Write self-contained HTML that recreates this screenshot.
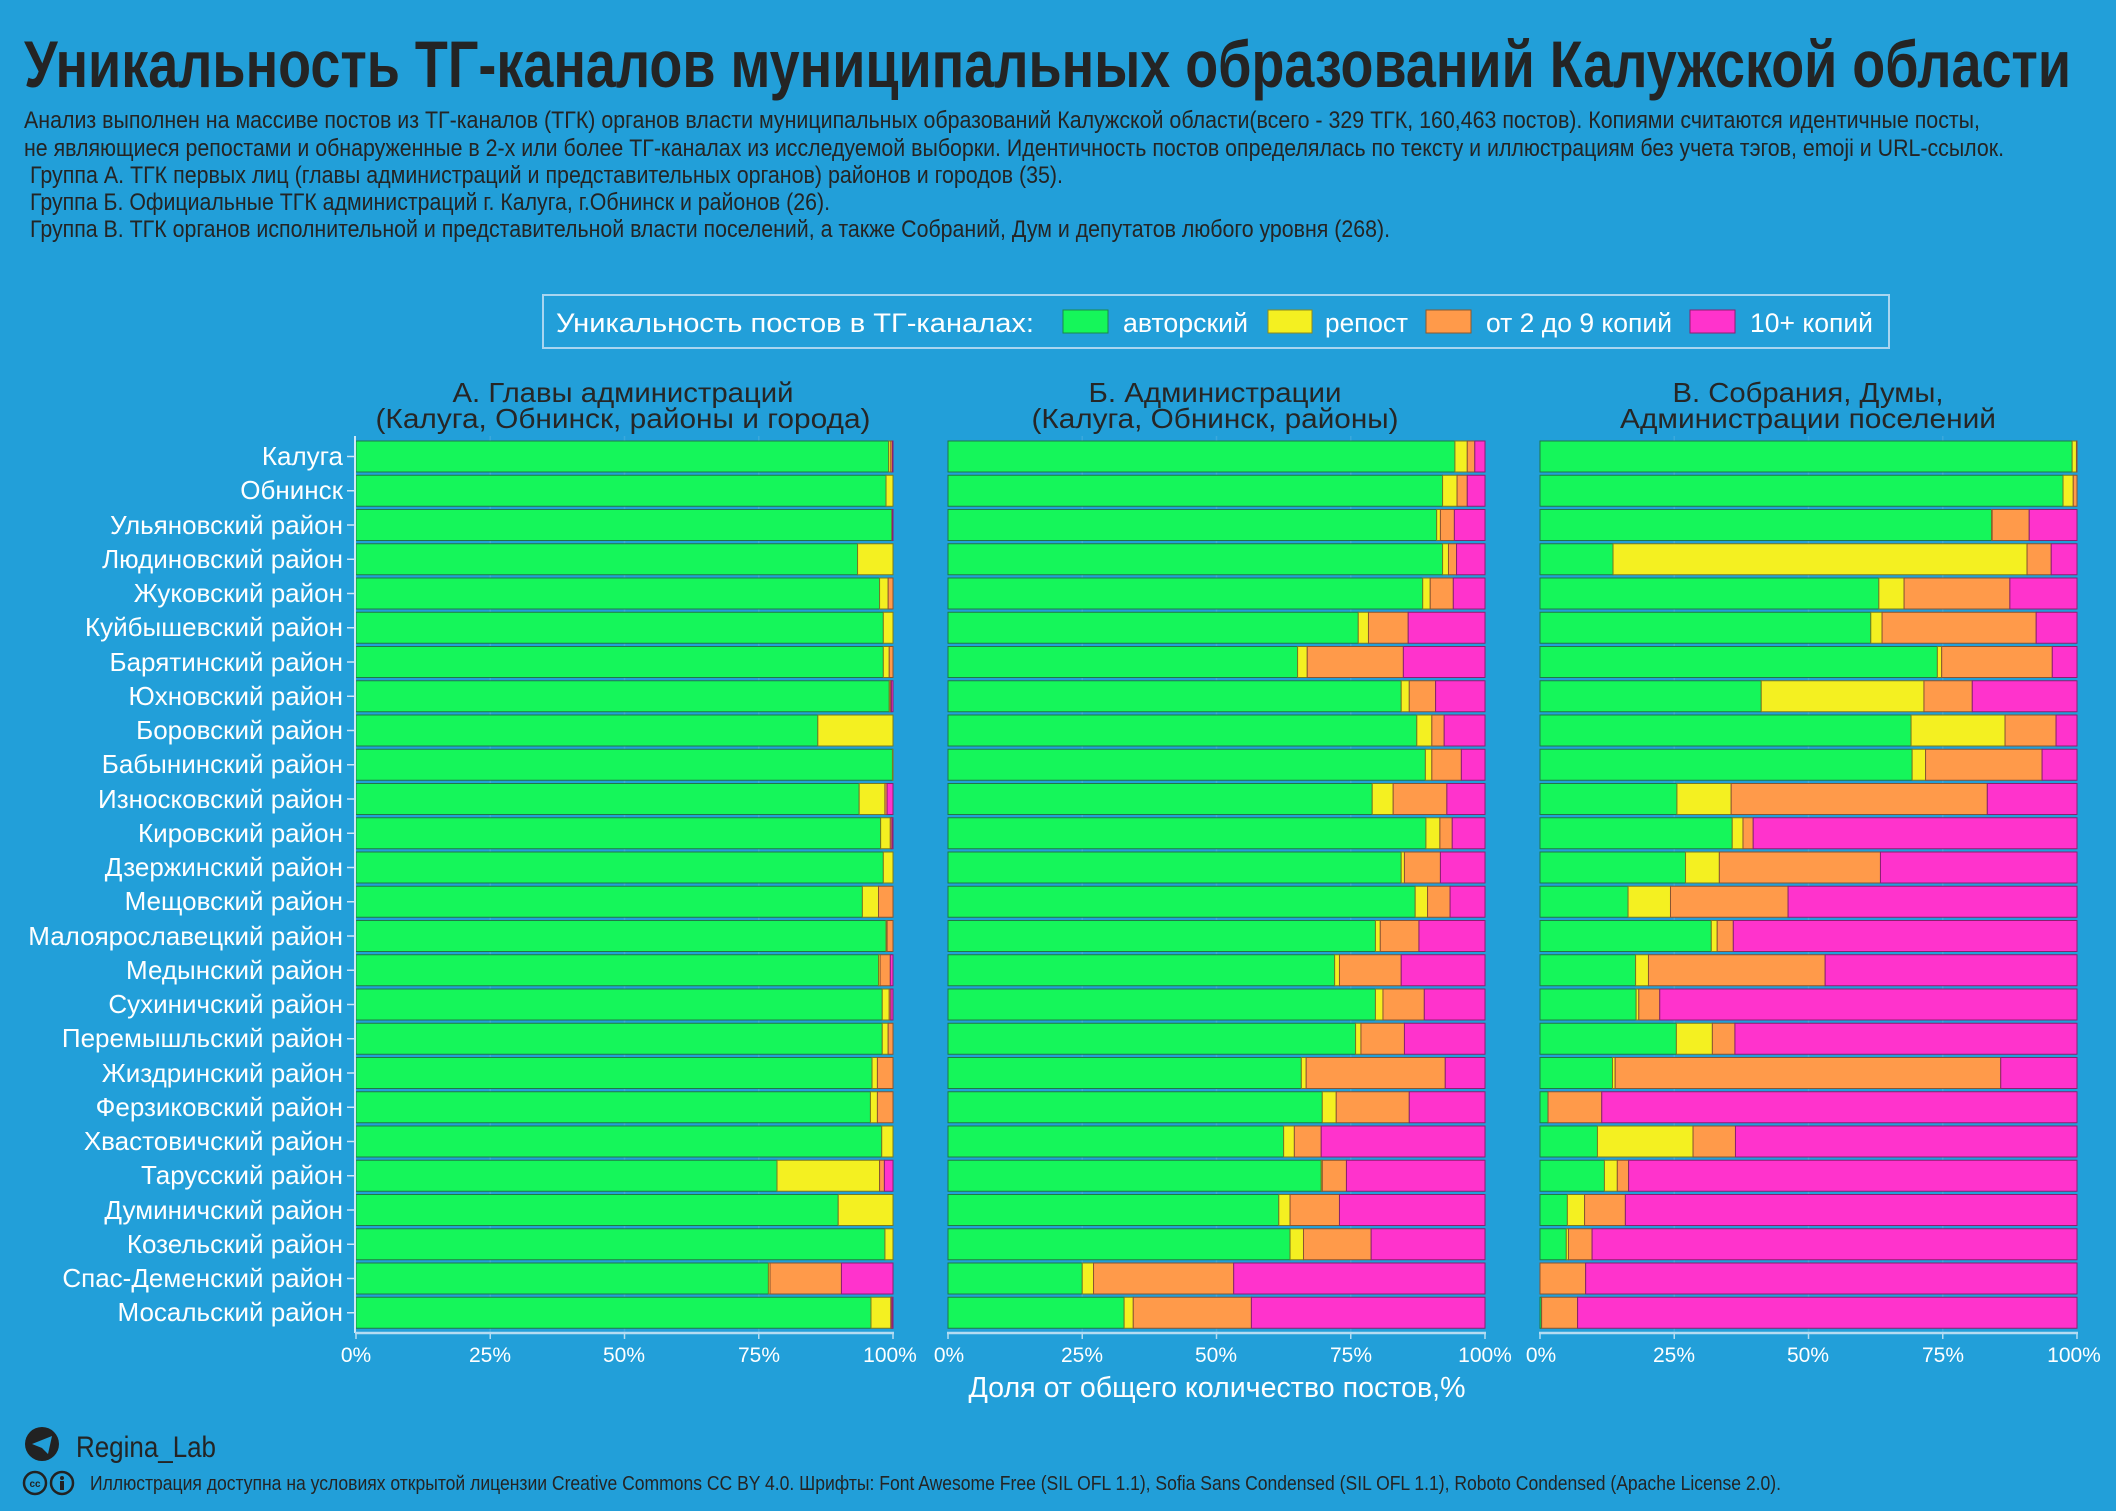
<!DOCTYPE html>
<html><head><meta charset="utf-8"><style>
html,body{margin:0;padding:0;background:#229FD9;}
svg{display:block}
text{font-family:"Liberation Sans","DejaVu Sans",sans-serif}
</style></head><body>
<svg id="s" width="2116" height="1511" viewBox="0 0 2116 1511" xmlns="http://www.w3.org/2000/svg">
<rect width="2116" height="1511" fill="#229FD9"/>
<text x="24" y="87" font-size="66" font-weight="bold" fill="#242424" textLength="2047" lengthAdjust="spacingAndGlyphs">Уникальность ТГ-каналов муниципальных образований Калужской области</text>
<g font-size="24" fill="#242424">
<text x="24" y="128" textLength="1956" lengthAdjust="spacingAndGlyphs">Анализ выполнен на массиве постов из ТГ-каналов (ТГК) органов власти муниципальных образований Калужской области(всего - 329 ТГК, 160,463 постов). Копиями считаются идентичные посты,</text>
<text x="24" y="156" textLength="1980" lengthAdjust="spacingAndGlyphs">не являющиеся репостами и обнаруженные в 2-х или более ТГ-каналах из исследуемой выборки. Идентичность постов определялась по тексту и иллюстрациям без учета тэгов, emoji и URL-ссылок.</text>
<text x="30" y="183" textLength="1033" lengthAdjust="spacingAndGlyphs">Группа А. ТГК первых лиц (главы администраций и представительных органов) районов и городов (35).</text>
<text x="30" y="210" textLength="800" lengthAdjust="spacingAndGlyphs">Группа Б. Официальные ТГК администраций г. Калуга, г.Обнинск и районов (26).</text>
<text x="30" y="237" textLength="1360" lengthAdjust="spacingAndGlyphs">Группа В. ТГК органов исполнительной и представительной власти поселений, а также Собраний, Дум и  депутатов любого уровня (268).</text>
</g>
<rect x="543" y="295" width="1346" height="53" fill="none" stroke="#a9d5f0" stroke-width="2"/>
<g font-size="27" fill="#ffffff">
<text x="556" y="332" textLength="478" lengthAdjust="spacingAndGlyphs">Уникальность постов в ТГ-каналах:</text>
<rect x="1063" y="310" width="45" height="23" fill="#15F65A" stroke="#1a8a4a"/>
<text x="1123" y="332" textLength="125" lengthAdjust="spacingAndGlyphs">авторский</text>
<rect x="1268" y="310" width="44" height="23" fill="#F4F021" stroke="#8a8a20"/>
<text x="1325" y="332" textLength="83" lengthAdjust="spacingAndGlyphs">репост</text>
<rect x="1426" y="310" width="45" height="23" fill="#FF9A4A" stroke="#8a5a30"/>
<text x="1486" y="332" textLength="186" lengthAdjust="spacingAndGlyphs">от 2 до 9 копий</text>
<rect x="1690" y="310" width="45" height="23" fill="#FF33CC" stroke="#8a2070"/>
<text x="1750" y="332" textLength="123" lengthAdjust="spacingAndGlyphs">10+ копий</text>
</g>
<g font-size="28" fill="#262626" text-anchor="middle">
<text x="623" y="402" textLength="341" lengthAdjust="spacingAndGlyphs">А. Главы администраций</text>
<text x="623" y="428" textLength="495" lengthAdjust="spacingAndGlyphs">(Калуга, Обнинск, районы и города)</text>
<text x="1215" y="402" textLength="253" lengthAdjust="spacingAndGlyphs">Б. Администрации</text>
<text x="1215" y="428" textLength="367" lengthAdjust="spacingAndGlyphs">(Калуга, Обнинск, районы)</text>
<text x="1808" y="402" textLength="271" lengthAdjust="spacingAndGlyphs">В. Собрания, Думы,</text>
<text x="1808" y="428" textLength="376" lengthAdjust="spacingAndGlyphs">Администрации поселений</text>
</g>
<g id="grid" stroke="#3aa8dc" stroke-width="1.5"></g>
<g id="bars"></g>
<line x1="355" y1="436" x2="355" y2="1333" stroke="#cfe8f7" stroke-width="2"/>
<g id="axes" stroke="#b5dcf2" stroke-width="2.5"></g>
<g font-size="26" fill="#ffffff" text-anchor="end">
<text x="343" y="465">Калуга</text>
<text x="343" y="499">Обнинск</text>
<text x="343" y="534">Ульяновский район</text>
<text x="343" y="568">Людиновский район</text>
<text x="343" y="602">Жуковский район</text>
<text x="343" y="636">Куйбышевский район</text>
<text x="343" y="671">Барятинский район</text>
<text x="343" y="705">Юхновский район</text>
<text x="343" y="739">Боровский район</text>
<text x="343" y="773">Бабынинский район</text>
<text x="343" y="808">Износковский район</text>
<text x="343" y="842">Кировский район</text>
<text x="343" y="876">Дзержинский район</text>
<text x="343" y="910">Мещовский район</text>
<text x="343" y="945">Малоярославецкий район</text>
<text x="343" y="979">Медынский район</text>
<text x="343" y="1013">Сухиничский район</text>
<text x="343" y="1047">Перемышльский район</text>
<text x="343" y="1082">Жиздринский район</text>
<text x="343" y="1116">Ферзиковский район</text>
<text x="343" y="1150">Хвастовичский район</text>
<text x="343" y="1184">Тарусский район</text>
<text x="343" y="1219">Думиничский район</text>
<text x="343" y="1253">Козельский район</text>
<text x="343" y="1287">Спас-Деменский район</text>
<text x="343" y="1321">Мосальский район</text>
</g>
<g font-size="21" fill="#ffffff" text-anchor="middle">
<text x="356" y="1362">0%</text><text x="490" y="1362">25%</text><text x="624" y="1362">50%</text><text x="759" y="1362">75%</text><text x="890" y="1362">100%</text>
<text x="949" y="1362">0%</text><text x="1082" y="1362">25%</text><text x="1216" y="1362">50%</text><text x="1351" y="1362">75%</text><text x="1485" y="1362">100%</text>
<text x="1541" y="1362">0%</text><text x="1674" y="1362">25%</text><text x="1808" y="1362">50%</text><text x="1943" y="1362">75%</text><text x="2074" y="1362">100%</text>
</g>
<text x="1217" y="1397" font-size="29" fill="#ffffff" text-anchor="middle" textLength="497" lengthAdjust="spacingAndGlyphs">Доля от общего количество постов,%</text>
<circle cx="42" cy="1444" r="17" fill="#222"/>
<path d="M32 1444 L52 1436 L48 1454 L42 1448 Z" fill="#229FD9"/>
<text x="76" y="1457" font-size="30" fill="#242424" textLength="140" lengthAdjust="spacingAndGlyphs">Regina_Lab</text>
<circle cx="35" cy="1483" r="11" fill="none" stroke="#222" stroke-width="2.5"/>
<text x="35" y="1487" font-size="10" font-weight="bold" fill="#222" text-anchor="middle">cc</text>
<circle cx="62" cy="1483" r="11" fill="none" stroke="#222" stroke-width="2.5"/>
<circle cx="62" cy="1478" r="2" fill="#222"/><rect x="60" y="1481" width="4" height="9" fill="#222"/>
<text x="90" y="1490" font-size="20" fill="#242424" textLength="1691" lengthAdjust="spacingAndGlyphs">Иллюстрация доступна на условиях открытой лицензии Creative Commons CC BY 4.0.  Шрифты: Font Awesome Free (SIL OFL 1.1), Sofia Sans Condensed (SIL OFL 1.1), Roboto Condensed (Apache License 2.0).</text>
</svg>
<script>
var A=[[.992,.996,.999],[.987,1,1],[.998,.998,.999],[.934,1,1],[.975,.991,1],[.982,1,1],[.982,.993,1],[.993,.995,.997],[.860,1,1],[.999,1,1],[.937,.985,.989],[.977,.995,.998],[.982,1,1],[.943,.973,1],[.987,.989,1],[.973,.976,.995],[.980,.993,.996],[.980,.991,1],[.961,.971,1],[.958,.971,1],[.979,1,1],[.784,.975,.984],[.898,1,1],[.985,1,1],[.768,.771,.904],[.959,.996,.998]];
var B=[[.944,.967,.981],[.921,.948,.967],[.910,.917,.943],[.921,.932,.947],[.884,.898,.941],[.764,.783,.857],[.651,.669,.848],[.844,.859,.908],[.873,.901,.924],[.889,.901,.956],[.790,.829,.929],[.890,.916,.939],[.844,.850,.917],[.870,.893,.935],[.796,.805,.877],[.720,.729,.844],[.796,.810,.887],[.759,.769,.850],[.658,.667,.926],[.697,.723,.859],[.625,.645,.695],[.695,.697,.742],[.616,.637,.729],[.637,.662,.788],[.250,.271,.532],[.328,.345,.565]];
var C=[[.991,.999,1],[.974,.993,1],[.841,.842,.911],[.136,.907,.952],[.631,.678,.875],[.616,.637,.924],[.740,.748,.954],[.412,.715,.805],[.691,.866,.961],[.693,.718,.935],[.255,.356,.833],[.358,.378,.397],[.271,.334,.634],[.164,.243,.462],[.319,.330,.360],[.178,.202,.531],[.179,.184,.223],[.254,.321,.363],[.135,.140,.858],[.015,.015,.115],[.107,.285,.364],[.120,.144,.165],[.051,.083,.159],[.049,.053,.097],[0,0,.085],[.003,.003,.070]];
var cols=["#15F65A","#F4F021","#FF9A4A","#FF33CC"],strokes=["#1f7a45","#7a7a20","#8a5530","#8a2070"];
var NS="http://www.w3.org/2000/svg",bars=document.getElementById("bars"),grid=document.getElementById("grid"),axes=document.getElementById("axes");
function el(p,t,a){var e=document.createElementNS(NS,t);for(var k in a)e.setAttribute(k,a[k]);p.appendChild(e);return e;}
[[356,A],[948,B],[1540,C]].forEach(function(p){var x0=p[0],W=537,d=p[1];
 for(var g=1;g<=3;g++)el(grid,"line",{x1:x0+W*g/4,y1:436,x2:x0+W*g/4,y2:1332});
 d.forEach(function(r,i){var y=441+i*34.25,c=[0,r[0],r[1],r[2],1];
  for(var k=0;k<4;k++){var w=(c[k+1]-c[k])*W;if(w<=0.05)continue;
   el(bars,"rect",{x:x0+c[k]*W,y:y,width:w,height:31,fill:cols[k],stroke:strokes[k],"stroke-width":1});}
 });
 el(axes,"line",{x1:x0-1,y1:1333,x2:x0+W+1,y2:1333});
 for(var g=0;g<=4;g++)el(axes,"line",{x1:x0+W*g/4,y1:1333,x2:x0+W*g/4,y2:1339,"stroke-width":1.5});
});
for(var i=0;i<26;i++)el(axes,"line",{x1:347,y1:456.5+i*34.25,x2:355,y2:456.5+i*34.25,"stroke-width":1.5,stroke:"#cfe8f7"});
</script>
</body></html>
